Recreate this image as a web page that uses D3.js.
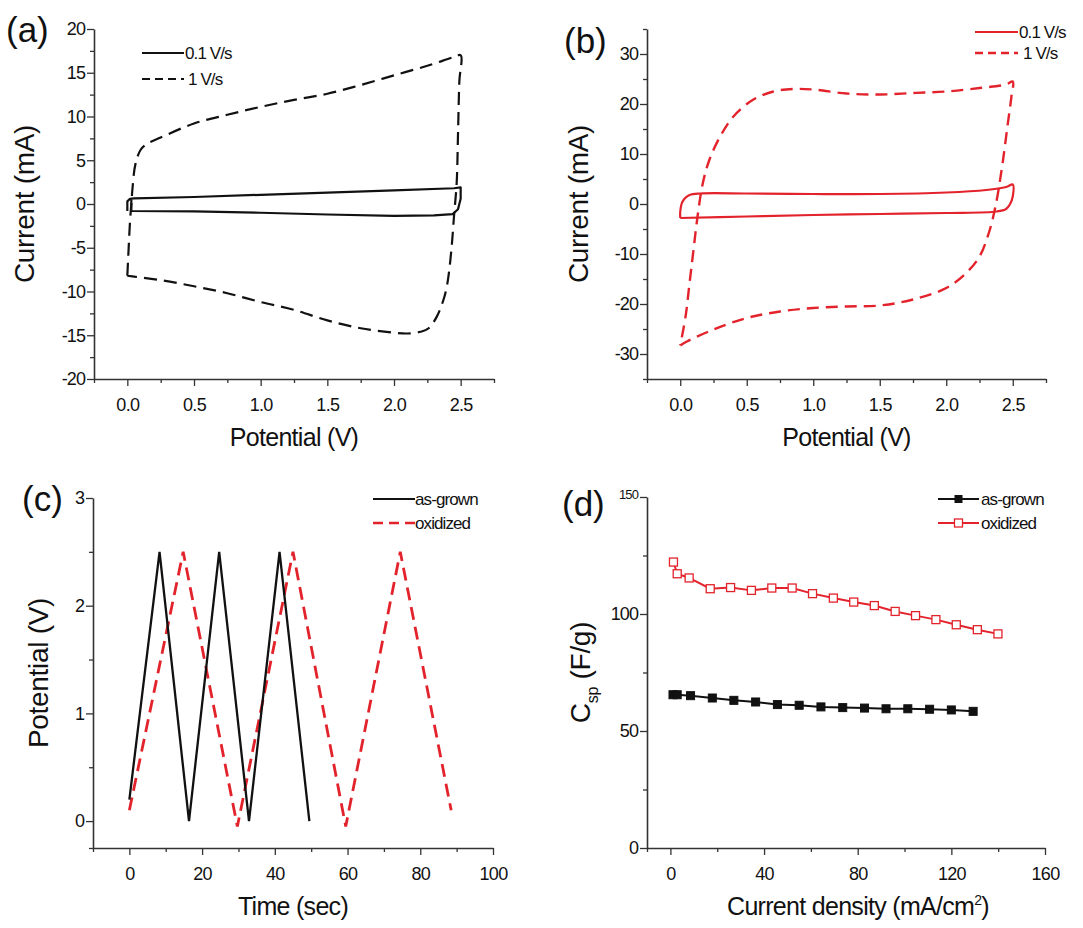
<!DOCTYPE html>
<html>
<head>
<meta charset="utf-8">
<script src="https://cdn.jsdelivr.net/npm/d3@7"></script>
<style>
  body { margin: 0; background: #fff; }
  svg { display: block; }
  text { font-family: "Liberation Sans", Arial, Helvetica, sans-serif; fill: #111; }
</style>
</head>
<body>
<svg id="fig" width="1083" height="928"></svg>
<script>
// ---------------- DATA ----------------
// (a) CV of as-grown electrode: [potential V, current mA]
const cvA_slow = [[0.0,-0.8],[0.0,0.3],[0.02,0.6],[0.05,0.65],[0.5,0.8],[1.0,1.05],[1.5,1.3],[2.0,1.55],[2.45,1.8],[2.5,1.9],[2.5,0.6],[2.48,-0.6],[2.44,-1.15],[2.3,-1.3],[2.0,-1.35],[1.5,-1.2],[1.0,-1.0],[0.5,-0.85],[0.03,-0.8],[0.03,0.6]];
const cvA_fast = [[0.0,-8.2],[0.01,-5],[0.02,-2],[0.03,0],[0.04,2],[0.06,4.5],[0.1,6.2],[0.15,6.9],[0.25,7.6],[0.5,9.2],[0.75,10.2],[1.0,11.1],[1.25,11.9],[1.5,12.6],[1.75,13.6],[2.0,14.7],[2.25,15.8],[2.45,16.8],[2.5,17.0],[2.49,14],[2.48,8],[2.47,2.4],[2.45,-1.4],[2.43,-5.3],[2.4,-9.1],[2.37,-11],[2.32,-12.9],[2.26,-14.2],[2.2,-14.6],[2.1,-14.8],[2.0,-14.7],[1.75,-14.2],[1.5,-13.3],[1.25,-12.1],[1.0,-11.2],[0.75,-10.2],[0.5,-9.4],[0.25,-8.7],[0.05,-8.3],[0.0,-8.2]];
// (b) CV of oxidized electrode
const cvB_slow = [[0.0,-2.8],[0.0,-1.5],[0.01,0],[0.03,1.0],[0.07,1.8],[0.15,2.1],[0.5,2.1],[1.0,2.0],[1.5,2.0],[2.0,2.3],[2.3,2.8],[2.45,3.4],[2.5,3.9],[2.5,1.5],[2.48,0],[2.45,-1.0],[2.38,-1.5],[2.0,-1.8],[1.5,-2.0],[1.0,-2.2],[0.5,-2.5],[0.0,-2.8]];
const cvB_fast = [[0.0,-28.3],[0.05,-27.5],[0.25,-25.1],[0.5,-22.8],[0.75,-21.5],[1.0,-20.8],[1.25,-20.5],[1.5,-20.3],[1.75,-19.1],[2.0,-16.8],[2.15,-13.8],[2.25,-10.5],[2.32,-5.8],[2.37,-0.5],[2.42,7.5],[2.46,15.5],[2.49,21.5],[2.5,24.5],[2.45,23.9],[2.25,23.2],[2.0,22.5],[1.75,22.2],[1.5,21.9],[1.25,22.1],[1.0,22.9],[0.85,23.0],[0.7,22.5],[0.55,20.9],[0.4,17.5],[0.3,13.5],[0.22,8.9],[0.17,4.2],[0.13,-2.5],[0.1,-9.1],[0.07,-15.8],[0.04,-22.5],[0.0,-28.3]];
// (c) charge/discharge: [time s, potential V]
const gcd_asgrown = [[0,0.2],[8.3,2.5],[16.4,0],[24.7,2.5],[32.9,0],[41.3,2.5],[49.5,0]];
const gcd_oxidized = [[0,0.1],[14.8,2.5],[29.7,-0.05],[45.0,2.5],[59.5,-0.05],[74.5,2.5],[88.5,0.1]];
// (d) specific capacitance: [current density mA/cm2, Csp F/g]
const csp_asgrown = [[1.1,65.5],[2.9,65.5],[8.6,65.1],[17.9,64.1],[27.1,63.1],[36.4,62.4],[45.7,61.3],[55.0,61.0],[64.3,60.3],[73.6,60.0],[82.9,59.8],[92.1,59.5],[101.4,59.5],[110.7,59.3],[120.0,59.0],[129.3,58.4]];
const csp_oxidized = [[1.3,122.2],[2.9,117.2],[8.0,115.4],[17.0,110.8],[25.7,111.3],[34.6,110.1],[43.3,111.1],[52.0,111.1],[60.7,108.7],[69.6,106.8],[78.3,105.1],[87.1,103.6],[96.0,101.1],[104.7,99.3],[113.4,97.6],[122.1,95.4],[131.1,93.3],[139.9,91.5]];

// tick values
const ticksCV_x = [0, 0.5, 1.0, 1.5, 2.0, 2.5];
const ticksCV_xMinor = [-0.25, 0.25, 0.75, 1.25, 1.75, 2.25, 2.75];
const ticksA_y = [-20, -15, -10, -5, 0, 5, 10, 15, 20];
const ticksA_yMinor = [-17.5, -12.5, -7.5, -2.5, 2.5, 7.5, 12.5, 17.5];
const ticksB_y = [-30, -20, -10, 0, 10, 20, 30];
const ticksB_yMinor = [-35, -25, -15, -5, 5, 15, 25, 35];
const ticksC_x = [0, 20, 40, 60, 80, 100];
const ticksC_xMinor = [-10, 10, 30, 50, 70, 90];
const ticksC_y = [0, 1, 2, 3];
const ticksC_yMinor = [-0.25, 0.5, 1.5, 2.5];
const ticksD_x = [0, 40, 80, 120, 160];
const ticksD_xMinor = [-10, 20, 60, 100, 140];
const ticksD_y = [0, 50, 100, 150];
const ticksD_yMinor = [25, 75, 125];

const RED = "#e3232c";
const BLACK = "#111";

// ---------------- DRAW ----------------
const svg = d3.select("#fig");

function panel(opt) {
  const g = svg.append("g");
  const x = d3.scaleLinear().domain(opt.xDomain).range(opt.xRange);
  const y = d3.scaleLinear().domain(opt.yDomain).range(opt.yRange);
  const y0 = opt.yRange[0], x0 = opt.xRange[0];

  // minor ticks
  g.append("g").attr("transform", `translate(0,${y0})`)
    .call(d3.axisBottom(x).tickValues(opt.xMinor).tickSize(4).tickFormat(""))
    .call(s => s.select(".domain").remove());
  g.append("g").attr("transform", `translate(${x0},0)`)
    .call(d3.axisLeft(y).tickValues(opt.yMinor).tickSize(4).tickFormat(""))
    .call(s => s.select(".domain").remove());
  // major
  const xa = g.append("g").attr("transform", `translate(0,${y0})`)
    .call(d3.axisBottom(x).tickValues(opt.xTicks).tickSize(7).tickSizeOuter(0).tickPadding(9).tickFormat(opt.xFmt));
  const ya = g.append("g").attr("transform", `translate(${x0},0)`)
    .call(d3.axisLeft(y).tickValues(opt.yTicks).tickSize(7).tickSizeOuter(0).tickPadding(2).tickFormat(opt.yFmt));
  g.selectAll(".domain").attr("stroke", "#333").attr("stroke-width", 1.6);
  g.selectAll(".tick line").attr("stroke", "#333").attr("stroke-width", 1.3);
  xa.selectAll("text").attr("font-size", 18).attr("fill", "#111").attr("letter-spacing", "-0.7")
    .attr("dy", "0.9em").attr("font-family", '"Liberation Sans", Arial, sans-serif');
  ya.selectAll("text").attr("font-size", 18).attr("fill", "#111").attr("letter-spacing", "-0.9")
    .attr("font-family", '"Liberation Sans", Arial, sans-serif');
  if (opt.smallTop) {
    ya.selectAll(".tick").filter(d => d === opt.yTicks[opt.yTicks.length - 1])
      .select("text").attr("font-size", 13).attr("dy", "0.1em");
  }

  // axis titles
  const xt = g.append("text")
    .attr("x", (opt.xRange[0] + opt.xRange[1]) / 2 + (opt.xTitleShift || 0))
    .attr("y", y0 + 67)
    .attr("text-anchor", "middle").attr("font-size", 25).attr("letter-spacing", "-0.7");
  opt.xTitle(xt);
  const yt = g.append("text")
    .attr("transform", `translate(${opt.yTitleX},${(opt.yRange[0] + opt.yRange[1]) / 2}) rotate(-90)`)
    .attr("text-anchor", "middle").attr("font-size", 28).attr("letter-spacing", "-0.3");
  opt.yTitle(yt);

  // panel label
  g.append("text").attr("x", opt.labelX).attr("y", opt.labelY)
    .attr("font-size", 35).text(opt.label);

  return { g, x, y };
}

function tfmt(d) { return String(d); }

function legendText(L, xx, yy, str) {
  L.append("text").attr("x", xx).attr("y", yy).attr("font-size", 17).attr("letter-spacing", "-0.9").text(str);
}

// ---- (a)
{
  const { g, x, y } = panel({
    xDomain: [-0.25, 2.75], xRange: [94, 494], yDomain: [-20, 20], yRange: [379, 29],
    xTicks: ticksCV_x, xMinor: ticksCV_xMinor, yTicks: ticksA_y, yMinor: ticksA_yMinor,
    xFmt: d3.format(".1f"), yFmt: tfmt,
    xTitle: t => t.text("Potential (V)"), yTitle: t => t.text("Current (mA)"), yTitleX: 34,
    label: "(a)", labelX: 6, labelY: 42
  });
  const line = d3.line().x(d => x(d[0])).y(d => y(d[1]));
  g.append("path").datum(cvA_fast).attr("d", line.curve(d3.curveCatmullRom.alpha(0.5)))
    .attr("fill", "none").attr("stroke", BLACK).attr("stroke-width", 2.2).attr("stroke-dasharray", "13,7");
  g.append("path").datum(cvA_slow).attr("d", d3.line().x(d => x(d[0])).y(d => y(d[1]))(cvA_slow))
    .attr("fill", "none").attr("stroke", BLACK).attr("stroke-width", 2.2).attr("stroke-linejoin", "round");
  // legend
  const L = g.append("g");
  L.append("line").attr("x1", 142).attr("x2", 184).attr("y1", 53).attr("y2", 53).attr("stroke", BLACK).attr("stroke-width", 2);
  L.append("line").attr("x1", 142).attr("x2", 184).attr("y1", 79).attr("y2", 79).attr("stroke", BLACK).attr("stroke-width", 2).attr("stroke-dasharray", "8,5");
  legendText(L, 185, 59, "0.1 V/s");
  legendText(L, 188, 85, "1 V/s");
}

// ---- (b)
{
  const { g, x, y } = panel({
    xDomain: [-0.25, 2.75], xRange: [647, 1046], yDomain: [-35, 35], yRange: [379, 29],
    xTicks: ticksCV_x, xMinor: ticksCV_xMinor, yTicks: ticksB_y, yMinor: ticksB_yMinor,
    xFmt: d3.format(".1f"), yFmt: tfmt,
    xTitle: t => t.text("Potential (V)"), yTitle: t => t.text("Current (mA)"), yTitleX: 588,
    label: "(b)", labelX: 564, labelY: 53
  });
  const line = d3.line().x(d => x(d[0])).y(d => y(d[1])).curve(d3.curveCatmullRom.alpha(0.5));
  g.append("path").datum(cvB_fast).attr("d", line)
    .attr("fill", "none").attr("stroke", RED).attr("stroke-width", 2.4).attr("stroke-dasharray", "12,7");
  g.append("path").datum(cvB_slow).attr("d", line)
    .attr("fill", "none").attr("stroke", RED).attr("stroke-width", 2.2);
  const L = g.append("g");
  L.append("line").attr("x1", 975).attr("x2", 1018).attr("y1", 32).attr("y2", 32).attr("stroke", RED).attr("stroke-width", 2);
  L.append("line").attr("x1", 975).attr("x2", 1018).attr("y1", 53).attr("y2", 53).attr("stroke", RED).attr("stroke-width", 2.4).attr("stroke-dasharray", "8,5");
  legendText(L, 1019, 38, "0.1 V/s");
  legendText(L, 1023, 59, "1 V/s");
}

// ---- (c)
{
  const { g, x, y } = panel({
    xDomain: [-10, 100], xRange: [93, 493], yDomain: [-0.25, 3], yRange: [848, 498],
    xTicks: ticksC_x, xMinor: ticksC_xMinor, yTicks: ticksC_y, yMinor: ticksC_yMinor,
    xFmt: tfmt, yFmt: tfmt,
    xTitle: t => t.text("Time (sec)"), yTitle: t => t.text("Potential (V)"), yTitleX: 48,
    label: "(c)", labelX: 22, labelY: 511
  });
  const line = d3.line().x(d => x(d[0])).y(d => y(d[1]));
  g.append("path").datum(gcd_oxidized).attr("d", line)
    .attr("fill", "none").attr("stroke", RED).attr("stroke-width", 2.8).attr("stroke-dasharray", "13,7");
  g.append("path").datum(gcd_asgrown).attr("d", line)
    .attr("fill", "none").attr("stroke", BLACK).attr("stroke-width", 2.3);
  const L = g.append("g");
  L.append("line").attr("x1", 373).attr("x2", 415).attr("y1", 499).attr("y2", 499).attr("stroke", BLACK).attr("stroke-width", 2);
  L.append("line").attr("x1", 373).attr("x2", 415).attr("y1", 523).attr("y2", 523).attr("stroke", RED).attr("stroke-width", 2.4).attr("stroke-dasharray", "10,6");
  legendText(L, 415, 505, "as-grown");
  legendText(L, 415, 529, "oxidized");
}

// ---- (d)
{
  const { g, x, y } = panel({
    xDomain: [-10, 160], xRange: [647, 1045], yDomain: [0, 150], yRange: [848, 497],
    xTicks: ticksD_x, xMinor: ticksD_xMinor, yTicks: ticksD_y, yMinor: ticksD_yMinor,
    xFmt: tfmt, yFmt: tfmt, smallTop: true,
    xTitle: t => { t.text("Current density (mA/cm"); t.append("tspan").attr("dy", -10).attr("font-size", 14).text("2"); t.append("tspan").attr("dy", 10).text(")"); },
    xTitleShift: 12,
    yTitle: t => { t.text("C"); t.append("tspan").attr("dy", 8).attr("font-size", 16).text("sp"); t.append("tspan").attr("dy", -8).text(" (F/g)"); },
    yTitleX: 590,
    label: "(d)", labelX: 562, labelY: 516
  });
  const line = d3.line().x(d => x(d[0])).y(d => y(d[1]));
  g.append("path").datum(csp_oxidized).attr("d", line).attr("fill", "none").attr("stroke", RED).attr("stroke-width", 2);
  g.append("path").datum(csp_asgrown).attr("d", line).attr("fill", "none").attr("stroke", BLACK).attr("stroke-width", 2);
  const s = 8;
  g.selectAll(".ox").data(csp_oxidized).join("rect")
    .attr("x", d => x(d[0]) - s / 2).attr("y", d => y(d[1]) - s / 2).attr("width", s).attr("height", s)
    .attr("fill", "#fff").attr("stroke", RED).attr("stroke-width", 1.3);
  g.selectAll(".ag").data(csp_asgrown).join("rect")
    .attr("x", d => x(d[0]) - s / 2).attr("y", d => y(d[1]) - s / 2).attr("width", s).attr("height", s)
    .attr("fill", BLACK).attr("stroke", BLACK).attr("stroke-width", 1);
  const L = g.append("g");
  L.append("line").attr("x1", 938).attr("x2", 979).attr("y1", 499).attr("y2", 499).attr("stroke", BLACK).attr("stroke-width", 2);
  L.append("rect").attr("x", 958.5 - s / 2).attr("y", 499 - s / 2).attr("width", s).attr("height", s).attr("fill", BLACK);
  L.append("line").attr("x1", 938).attr("x2", 979).attr("y1", 523).attr("y2", 523).attr("stroke", RED).attr("stroke-width", 2);
  L.append("rect").attr("x", 958.5 - s / 2).attr("y", 523 - s / 2).attr("width", s).attr("height", s).attr("fill", "#fff").attr("stroke", RED).attr("stroke-width", 1.3);
  legendText(L, 981, 505, "as-grown");
  legendText(L, 981, 529, "oxidized");
}
</script>
</body>
</html>
